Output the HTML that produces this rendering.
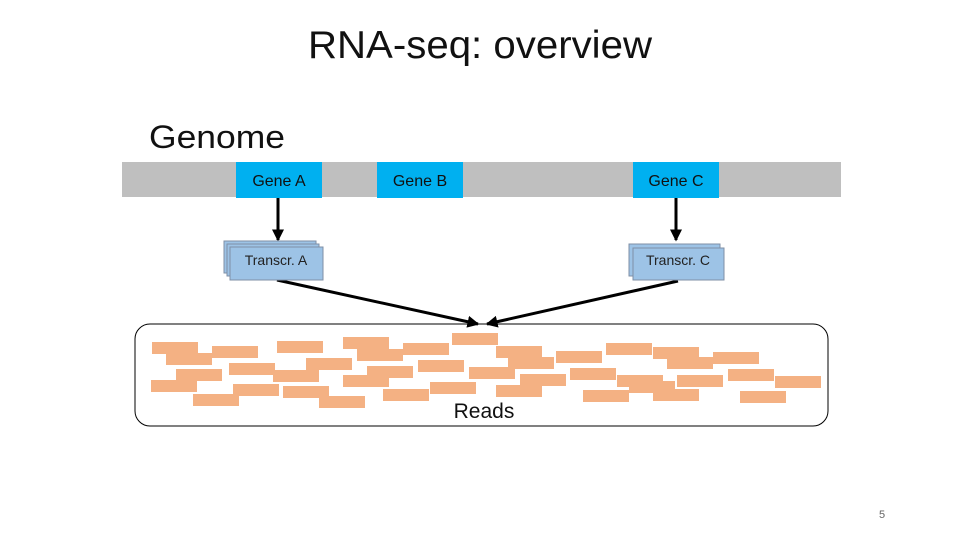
<!DOCTYPE html>
<html><head><meta charset="utf-8"><style>
body{margin:0;width:960px;height:540px;background:#fff;overflow:hidden;font-family:"Liberation Sans",sans-serif}
</style></head><body>
<svg width="960" height="540" viewBox="0 0 960 540" xmlns="http://www.w3.org/2000/svg" font-family="Liberation Sans, sans-serif">
<defs><marker id="ah" markerWidth="4" markerHeight="4" refX="3.5" refY="2" orient="auto"><path d="M0,0 L4,2 L0,4 z" fill="#000"/></marker></defs>
<text x="480" y="58" font-size="39" text-anchor="middle" fill="#111" textLength="344" lengthAdjust="spacingAndGlyphs">RNA-seq: overview</text>
<text x="149" y="148" font-size="32" fill="#111" textLength="136" lengthAdjust="spacingAndGlyphs">Genome</text>
<rect x="122" y="162" width="719" height="35" fill="#bfbfbf"/>
<rect x="236" y="162" width="86" height="36" fill="#00b0f0"/>
<rect x="377" y="162" width="86" height="36" fill="#00b0f0"/>
<rect x="633" y="162" width="86" height="36" fill="#00b0f0"/>
<g font-size="16" fill="#111" text-anchor="middle"><text x="279" y="186">Gene A</text><text x="420" y="186">Gene B</text><text x="676" y="186">Gene C</text></g>
<g stroke="#000" stroke-width="3" marker-end="url(#ah)">
<line x1="278" y1="198" x2="278" y2="240"/><line x1="676" y1="198" x2="676" y2="240"/>
<line x1="277" y1="280" x2="478" y2="324"/><line x1="678" y1="281" x2="487" y2="324"/>
</g>
<g fill="#9dc3e6" stroke="#7f8fa6" stroke-width="1">
<rect x="224" y="241" width="92" height="32"/><rect x="227" y="244" width="92" height="32"/><rect x="230" y="247" width="93" height="33"/>
<rect x="629" y="244" width="91" height="32"/><rect x="633" y="248" width="91" height="32"/>
</g>
<g font-size="14" fill="#222" text-anchor="middle"><text x="276" y="265">Transcr. A</text><text x="678" y="265">Transcr. C</text></g>
<rect x="135" y="324" width="693" height="102" rx="15" fill="none" stroke="#000" stroke-width="1"/>
<g fill="#f4b183">
<rect x="152" y="342" width="46" height="12"/><rect x="166" y="353" width="46" height="12"/><rect x="212" y="346" width="46" height="12"/><rect x="277" y="341" width="46" height="12"/><rect x="343" y="337" width="46" height="12"/><rect x="357" y="349" width="46" height="12"/><rect x="403" y="343" width="46" height="12"/><rect x="452" y="333" width="46" height="12"/><rect x="496" y="346" width="46" height="12"/><rect x="508" y="357" width="46" height="12"/><rect x="556" y="351" width="46" height="12"/><rect x="606" y="343" width="46" height="12"/><rect x="653" y="347" width="46" height="12"/><rect x="667" y="357" width="46" height="12"/><rect x="713" y="352" width="46" height="12"/>
<rect x="176" y="369" width="46" height="12"/><rect x="229" y="363" width="46" height="12"/><rect x="273" y="370" width="46" height="12"/><rect x="306" y="358" width="46" height="12"/><rect x="343" y="375" width="46" height="12"/><rect x="367" y="366" width="46" height="12"/><rect x="418" y="360" width="46" height="12"/><rect x="469" y="367" width="46" height="12"/><rect x="520" y="374" width="46" height="12"/><rect x="570" y="368" width="46" height="12"/><rect x="617" y="375" width="46" height="12"/><rect x="677" y="375" width="46" height="12"/><rect x="728" y="369" width="46" height="12"/><rect x="775" y="376" width="46" height="12"/>
<rect x="151" y="380" width="46" height="12"/><rect x="193" y="394" width="46" height="12"/><rect x="233" y="384" width="46" height="12"/><rect x="283" y="386" width="46" height="12"/><rect x="319" y="396" width="46" height="12"/><rect x="383" y="389" width="46" height="12"/><rect x="430" y="382" width="46" height="12"/><rect x="496" y="385" width="46" height="12"/><rect x="583" y="390" width="46" height="12"/><rect x="629" y="381" width="46" height="12"/><rect x="653" y="389" width="46" height="12"/><rect x="740" y="391" width="46" height="12"/>
</g>
<text x="484" y="418" font-size="21" text-anchor="middle" fill="#111">Reads</text>
<text x="882" y="518" font-size="11" text-anchor="middle" fill="#666">5</text>
</svg>
</body></html>
